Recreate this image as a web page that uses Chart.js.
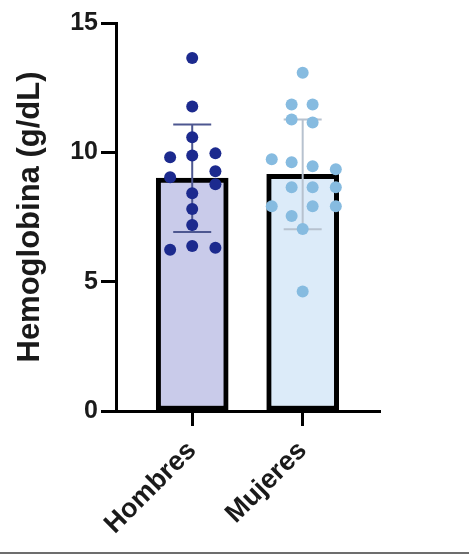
<!DOCTYPE html>
<html lang="es">
  <head>
    <meta charset="UTF-8" />
    <title>Hemoglobina</title>
    <script src="https://cdn.jsdelivr.net/npm/chart.js@4/dist/chart.umd.min.js"></script>
    <style>
      body {
        margin: 0;
        background: #fff;
      }
      #wrap {
        width: 469px;
        height: 552px;
        border-bottom: 2px solid #6d6d6d;
      }
    </style>
  </head>
  <body>
    <div id="wrap"><canvas id="chart"></canvas></div>

    <script>
      // categorías y valores
      const categories = ["Hombres", "Mujeres"];
      const means = [9.0, 9.15];
      const sds = [2.08, 2.12];
      const yTicks = [0, 5, 10, 15];

      const hombres = [13.65, 11.77, 10.58, 9.81, 9.88, 9.96, 9.04, 9.27, 8.77, 8.42, 7.81, 7.19, 6.23, 6.38, 6.31];
      const hombresJitter = [0, 0, 0, -0.2, 0, 0.21, -0.2, 0.21, 0.21, 0, 0, 0, -0.2, 0, 0.21];

      const mujeres = [13.08, 11.85, 11.85, 11.27, 11.15, 9.73, 9.62, 9.46, 9.35, 8.65, 8.65, 8.65, 7.92, 7.92, 7.92, 7.54, 7.04, 4.62];
      const mujeresJitter = [0, -0.1, 0.09, -0.1, 0.09, -0.28, -0.1, 0.09, 0.3, -0.1, 0.09, 0.3, -0.28, 0.09, 0.3, -0.1, 0, 0];

      const font = "'Liberation Sans', Arial, sans-serif";

      function points(values, jitter, pos) {
        return values.map((v, i) => ({ x: pos + jitter[i], y: v }));
      }

      const errorBars = {
        id: "errorBars",
        afterDatasetDraw(chart, args) {
          if (args.index !== 0) return;
          const ctx = chart.ctx;
          const xs = chart.scales.x;
          const ys = chart.scales.y;
          const colors = ["#4d5790", "#b7c2cf"];
          ctx.save();
          ctx.lineWidth = 2;
          means.forEach((m, i) => {
            const x = xs.getPixelForValue(i + 1);
            const top = ys.getPixelForValue(m + sds[i]);
            const bot = ys.getPixelForValue(m - sds[i]);
            ctx.strokeStyle = colors[i];
            ctx.beginPath();
            ctx.moveTo(x, top);
            ctx.lineTo(x, bot);
            ctx.moveTo(x - 19, top);
            ctx.lineTo(x + 19, top);
            ctx.moveTo(x - 19, bot);
            ctx.lineTo(x + 19, bot);
            ctx.stroke();
          });
          ctx.restore();
        },
      };

      new Chart(document.getElementById("chart"), {
        type: "bar",
        data: {
          datasets: [
            {
              data: means.map((m, i) => ({ x: i + 1, y: m })),
              backgroundColor: ["#c9cbea", "#dcebf9"],
              borderColor: "#000",
              borderWidth: 5,
              borderSkipped: false,
              barThickness: 72,
              order: 3,
            },
            {
              type: "scatter",
              data: points(hombres, hombresJitter, 1),
              backgroundColor: "#1c2a8e",
              pointRadius: 6,
              pointBorderWidth: 0,
              order: 1,
            },
            {
              type: "scatter",
              data: points(mujeres, mujeresJitter, 2),
              backgroundColor: "#86bbe0",
              pointRadius: 6,
              pointBorderWidth: 0,
              order: 1,
            },
          ],
        },
        options: {
          responsive: true,
          maintainAspectRatio: false,
          animation: false,
          events: [],
          layout: { padding: { left: 0, top: 23, right: 89, bottom: 0 } },
          plugins: {
            legend: { display: false },
            tooltip: { enabled: false },
          },
          scales: {
            x: {
              type: "linear",
              min: 0.31,
              max: 2.7,
              offset: false,
              afterBuildTicks: (axis) => {
                axis.ticks = categories.map((c, i) => ({ value: i + 1 }));
              },
              afterFit: (axis) => {
                axis.height = 141;
              },
              border: { display: true, color: "#000", width: 3 },
              grid: {
                offset: false,
                drawOnChartArea: false,
                tickLength: 15,
                tickWidth: 3,
                tickColor: "#000",
              },
              ticks: {
                minRotation: 45,
                maxRotation: 45,
                padding: 9,
                color: "#1a1a1a",
                font: { family: font, size: 27, weight: "bold" },
                callback: (v) => categories[v - 1],
              },
            },
            y: {
              min: 0,
              max: 15,
              afterBuildTicks: (axis) => {
                axis.ticks = yTicks.map((v) => ({ value: v }));
              },
              afterFit: (axis) => {
                axis.width = 116;
              },
              border: { display: true, color: "#000", width: 3 },
              grid: {
                drawOnChartArea: false,
                tickLength: 15,
                tickWidth: 3,
                tickColor: "#000",
              },
              ticks: {
                padding: 3,
                color: "#1a1a1a",
                font: { family: font, size: 25, weight: "bold" },
              },
              title: {
                display: true,
                text: "Hemoglobina (g/dL)",
                color: "#1a1a1a",
                padding: { top: 12, bottom: 0 },
                font: { family: font, size: 31, weight: "bold" },
              },
            },
          },
        },
        plugins: [errorBars],
      });
    </script>
  </body>
</html>
